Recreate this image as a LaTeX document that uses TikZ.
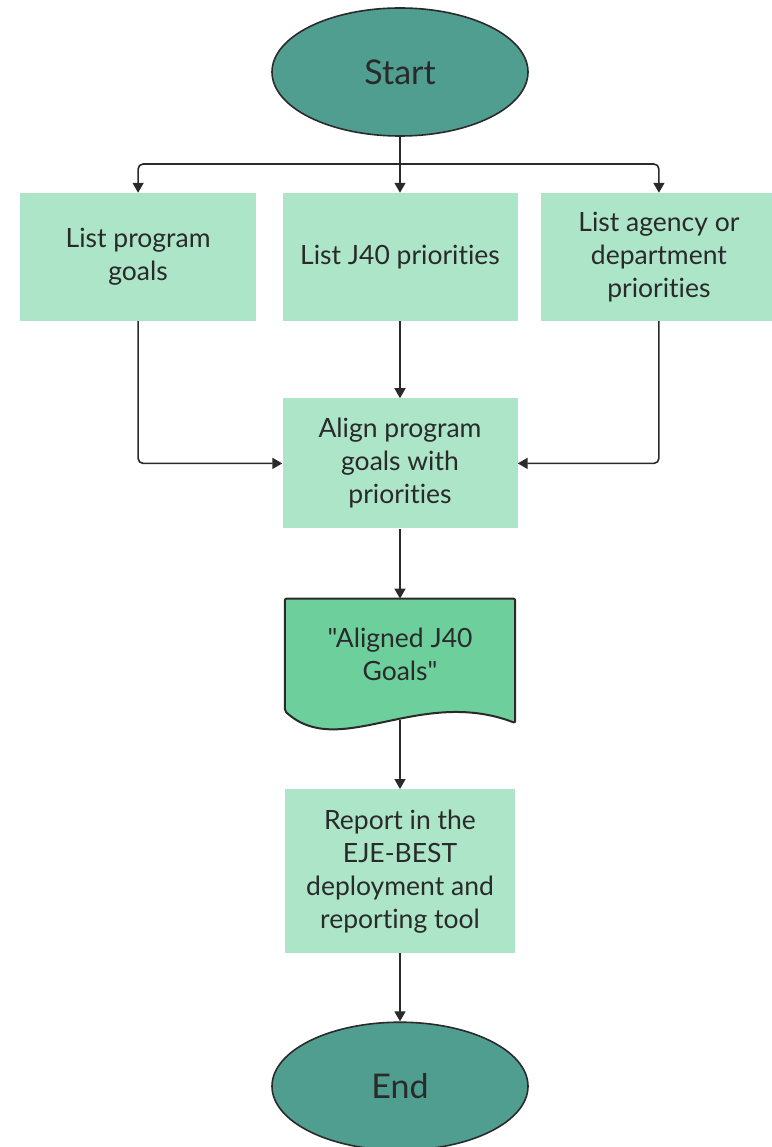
\documentclass[tikz,border=0pt]{standalone}
\usepackage{fontspec}
\newfontfamily\labelfont{Lato}[Ligatures=NoCommon]
\usetikzlibrary{arrows.meta,positioning,shapes.geometric,calc,backgrounds}
\definecolor{Teal}{HTML}{4F9E90}
\definecolor{Mint}{HTML}{ACE5C7}
\definecolor{Leaf}{HTML}{6DD09C}
\definecolor{Ink}{HTML}{2A2A2A}
\tikzset{
  terminal/.style={ellipse,draw=Ink,line width=1.6pt,fill=Teal,minimum width=256pt,
    minimum height=128pt,text=Ink,font=\labelfont\fontsize{34}{40}\selectfont},
  stepbox/.style={rectangle,fill=Mint,minimum width=236pt,minimum height=128pt,
    align=center,text=Ink,font=\labelfont\fontsize{26.5}{33}\selectfont},
  docbox/.style={stepbox,fill=none,minimum width=230pt,minimum height=112pt},
  docline/.style={draw=Ink,fill=Leaf,line width=2pt,rounded corners=2pt},
  arrow/.style={-{Triangle[length=10pt,width=11pt]},line width=1.6pt,color=Ink,rounded corners=5pt}
}

\begin{document}
\begin{tikzpicture}[x=1pt,y=-1pt]
  \useasboundingbox (0,0) rectangle (771,1147);
  \node[terminal] (start) at (400,72) {Start};
  \node[stepbox,below=56pt of start,minimum width=235pt] (prio) {List J40 priorities};
  \node[stepbox,left=26pt of prio] (goals) {List program\\goals};
  \node[stepbox,right=23pt of prio] (agency) {List agency or\\department\\priorities};
  \node[stepbox,below=77pt of prio,minimum width=235pt,minimum height=130pt] (align) {Align program\\goals with\\priorities};
  \node[docbox,below=70pt of align] (doc) {"Aligned J40\\Goals"};
  \node[stepbox,below=78pt of doc,minimum width=230pt,minimum height=164pt] (report) {Report in the\\EJE-BEST\\deployment and\\reporting tool};
  \node[terminal,below=68pt of report] (stop) {End};
  % wavy document outline behind its text
  \begin{scope}[on background layer]
    \draw[docline] (doc.south west) -- (doc.north west) -- (doc.north east)
      -- ($(doc.south east)+(0,12)$) .. controls ($(doc.south)+(19,-25)$) and ($(doc.south)+(-61,50)$) .. (doc.south west) -- cycle;
  \end{scope}
  \coordinate (split) at (400,164);
  \coordinate (docfoot) at ($(doc.south)+(0,9)$);
  \draw[arrow] (start) -- (prio);
  \draw[arrow] (split) -| (goals);
  \draw[arrow] (split) -| (agency);
  \draw[arrow] (prio) -- (align);
  \draw[arrow] (goals) |- (align);
  \draw[arrow] (agency) |- (align);
  \draw[arrow] (align) -- (doc);
  \draw[arrow] (docfoot) -- (report);
  \draw[arrow] (report) -- (stop);
\end{tikzpicture}
\end{document}
